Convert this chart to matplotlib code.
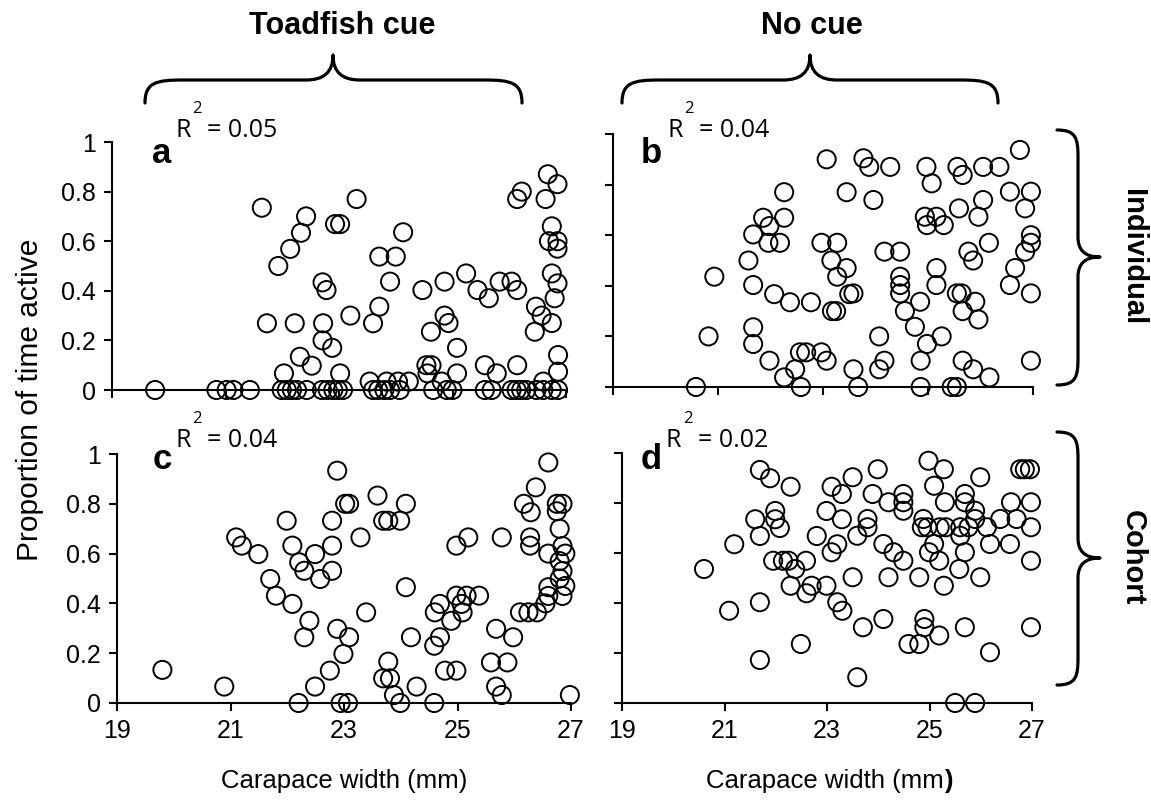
import matplotlib
matplotlib.use("Agg")
import matplotlib.pyplot as plt
from matplotlib.path import Path
from matplotlib.patches import PathPatch

W, H, DPI = 1151, 802, 100

# ---- data: carapace width (mm) and proportion of time active ----
a_width = [19.76, 20.84, 21.02, 21.14, 21.43, 21.99, 22.08, 22.17, 22.26, 22.43,
           22.70, 22.80, 22.90, 22.98, 23.07, 23.60, 23.69, 23.80, 23.90, 24.07,
           24.66, 24.90, 25.00, 25.57, 25.69, 26.04, 26.13, 26.21, 26.30, 26.48,
           26.60, 26.75, 26.86,
           21.64, 22.42, 22.33, 22.14, 21.93, 22.93, 23.02, 22.71, 22.78, 21.73,
           22.22, 22.72, 22.71, 22.88, 22.31, 22.52, 22.03, 23.31, 24.13, 23.71,
           24.00, 23.90, 24.47, 24.86, 25.24, 25.44, 25.64, 25.83, 26.04, 26.14,
           26.14, 26.22, 26.68, 26.64, 26.47, 26.57, 26.45, 23.20, 23.71, 23.60,
           24.62, 24.86, 24.93, 25.08, 24.54, 24.63, 24.56, 25.08, 25.57, 25.78,
           26.14, 23.02, 23.54, 23.84, 24.04, 24.23, 24.81, 26.60, 26.86, 26.86,
           26.85, 26.75, 26.70, 26.85, 26.85, 26.75, 26.85, 26.75, 26.80]
a_active = [0] * 33 + [
           0.735, 0.70, 0.634, 0.569, 0.50, 0.669, 0.669, 0.434, 0.403, 0.269,
           0.269, 0.269, 0.20, 0.17, 0.134, 0.098, 0.067, 0.77, 0.636, 0.538,
           0.538, 0.437, 0.403, 0.437, 0.47, 0.403, 0.37, 0.437, 0.437, 0.403,
           0.77, 0.80, 0.87, 0.77, 0.336, 0.30, 0.235, 0.30, 0.336, 0.269,
           0.235, 0.30, 0.27, 0.17, 0.10, 0.10, 0.067, 0.067, 0.10, 0.067,
           0.10, 0.067, 0.034, 0.034, 0.034, 0.034, 0.034, 0.034, 0.141, 0.074,
           0.83, 0.66, 0.60, 0.60, 0.57, 0.47, 0.43, 0.27, 0.37]

b_width = [20.58, 23.07, 22.26, 23.45, 21.86, 21.98, 22.26, 21.67, 21.96, 22.18,
           22.97, 23.27, 21.58, 23.16, 23.45, 23.27, 20.93, 21.67, 22.07, 22.37,
           22.77, 23.17, 23.25, 23.50, 21.67, 20.82, 21.67, 21.98, 22.56, 22.68,
           22.97, 23.07, 22.26, 22.47, 22.58, 23.77, 23.88, 24.28, 24.97, 25.56,
           25.66, 26.05, 26.36, 26.75, 25.07, 23.96, 26.56, 26.96, 26.85, 26.05,
           25.96, 25.59, 24.94, 25.16, 24.98, 25.30, 24.17, 24.47, 25.77, 25.86,
           26.16, 26.96, 26.96, 26.85, 26.66, 26.56, 26.96, 23.58, 24.47, 24.47,
           24.47, 25.16, 25.16, 24.85, 24.56, 25.55, 25.64, 25.90, 25.66, 25.96,
           24.75, 25.26, 24.98, 24.07, 24.17, 24.07, 23.58, 23.67, 24.86, 24.86,
           25.66, 25.86, 26.17, 25.45, 25.55, 26.96]
b_active = [0.0, 0.90, 0.77, 0.77, 0.669, 0.636, 0.669, 0.603, 0.57, 0.57,
            0.57, 0.57, 0.50, 0.50, 0.47, 0.436, 0.436, 0.403, 0.367, 0.335,
            0.335, 0.30, 0.30, 0.367, 0.236, 0.20, 0.17, 0.104, 0.137, 0.137,
            0.137, 0.104, 0.038, 0.07, 0.0, 0.904, 0.87, 0.87, 0.87, 0.87,
            0.838, 0.87, 0.87, 0.937, 0.805, 0.739, 0.772, 0.772, 0.706, 0.739,
            0.673, 0.706, 0.673, 0.673, 0.64, 0.64, 0.535, 0.535, 0.535, 0.50,
            0.57, 0.60, 0.57, 0.535, 0.47, 0.403, 0.37, 0.37, 0.436, 0.403,
            0.37, 0.47, 0.403, 0.337, 0.30, 0.37, 0.37, 0.337, 0.30, 0.267,
            0.238, 0.20, 0.17, 0.20, 0.104, 0.07, 0.07, 0.0, 0.104, 0.0,
            0.104, 0.07, 0.038, 0.0, 0.0, 0.104]

c_width = [19.80, 20.89, 22.20, 22.49, 22.75, 21.10, 21.20, 21.49, 21.99, 22.09,
           22.21, 22.30, 22.49, 22.58, 21.70, 21.80, 22.09, 22.39, 22.30, 22.88,
           23.02, 23.09, 23.59, 24.09, 22.79, 23.69, 23.78, 23.99, 23.29, 22.79,
           22.79, 24.09, 23.39, 22.88, 23.09, 22.99, 22.94, 23.07, 23.78, 23.69,
           23.81, 23.88, 23.99, 24.28, 24.59, 24.18, 24.60, 24.69, 24.98, 25.16,
           25.38, 25.07, 25.09, 24.89, 24.69, 24.59, 24.78, 24.98, 24.98, 25.19,
           25.78, 25.68, 25.98, 25.59, 25.88, 25.68, 25.78, 26.10, 26.25, 26.40,
           26.28, 26.28, 26.17, 26.29, 26.38, 26.98, 26.60, 26.60, 26.60, 26.60,
           26.55, 26.75, 26.85, 26.75, 26.80, 26.85, 26.90, 26.80, 26.85, 26.80,
           26.90, 26.85]
c_active = [0.133, 0.066, 0.0, 0.066, 0.13, 0.665, 0.632, 0.598, 0.732, 0.632,
            0.565, 0.531, 0.598, 0.498, 0.498, 0.431, 0.398, 0.33, 0.264, 0.933,
            0.80, 0.80, 0.833, 0.80, 0.732, 0.732, 0.732, 0.732, 0.665, 0.632,
            0.531, 0.465, 0.364, 0.298, 0.264, 0.197, 0.0, 0.0, 0.166, 0.099,
            0.099, 0.032, 0.0, 0.066, 0.0, 0.264, 0.364, 0.398, 0.431, 0.431,
            0.431, 0.398, 0.364, 0.33, 0.264, 0.23, 0.13, 0.13, 0.632, 0.665,
            0.665, 0.298, 0.264, 0.163, 0.163, 0.066, 0.032, 0.364, 0.364, 0.364,
            0.665, 0.632, 0.80, 0.766, 0.866, 0.032, 0.966, 0.60, 0.465, 0.43,
            0.40, 0.80, 0.80, 0.77, 0.70, 0.63, 0.60, 0.57, 0.53, 0.50,
            0.47, 0.43]

d_width = [20.60, 21.19, 21.09, 21.69, 21.89, 22.29, 21.60, 21.99, 21.99, 22.08,
           21.69, 21.95, 22.14, 22.25, 22.59, 22.38, 22.29, 22.60, 22.70, 22.99,
           21.69, 22.49, 21.69, 22.80, 23.09, 23.29, 22.99, 23.29, 23.20, 23.09,
           23.20, 23.30, 23.50, 23.99, 24.98, 25.28, 25.99, 26.77, 26.86, 26.96,
           23.89, 24.20, 24.49, 24.49, 24.49, 25.09, 25.30, 25.69, 25.69, 25.89,
           25.89, 26.59, 26.98, 23.79, 23.79, 23.59, 24.88, 24.85, 24.96, 25.20,
           25.32, 25.60, 25.76, 26.12, 25.60, 26.38, 26.70, 26.98, 24.10, 24.30,
           24.49, 24.99, 25.09, 25.19, 25.69, 25.58, 26.18, 26.57, 26.98, 23.50,
           24.20, 24.80, 25.28, 25.99, 23.70, 24.10, 24.90, 24.90, 25.19, 24.59,
           24.80, 25.69, 26.18, 26.98, 23.59, 25.50, 25.89]
d_active = [0.536, 0.635, 0.369, 0.932, 0.899, 0.865, 0.735, 0.768, 0.735, 0.70,
            0.668, 0.569, 0.569, 0.569, 0.569, 0.536, 0.469, 0.439, 0.469, 0.469,
            0.403, 0.236, 0.172, 0.668, 0.865, 0.836, 0.768, 0.735, 0.635, 0.603,
            0.403, 0.369, 0.903, 0.935, 0.969, 0.935, 0.903, 0.935, 0.935, 0.935,
            0.836, 0.803, 0.836, 0.803, 0.769, 0.869, 0.803, 0.836, 0.803, 0.769,
            0.736, 0.803, 0.803, 0.736, 0.703, 0.669, 0.736, 0.703, 0.703, 0.703,
            0.703, 0.703, 0.703, 0.703, 0.669, 0.736, 0.736, 0.703, 0.636, 0.603,
            0.569, 0.603, 0.636, 0.569, 0.603, 0.536, 0.636, 0.636, 0.569, 0.503,
            0.503, 0.503, 0.469, 0.503, 0.303, 0.336, 0.336, 0.303, 0.27, 0.236,
            0.236, 0.303, 0.203, 0.303, 0.103, 0.0, 0.0]

x_ticks = [19, 21, 23, 25, 27]
y_ticks = [0, 0.2, 0.4, 0.6, 0.8, 1]
y_tick_labels = ["0", "0.2", "0.4", "0.6", "0.8", "1"]
r2_labels = ["0.05", "0.04", "0.04", "0.02"]
panel_letters = ["a", "b", "c", "d"]

SANS = ["Liberation Sans", "DejaVu Sans"]
R2_FONT = ["Open Sans", "DejaVu Sans"]
plt.rcParams["font.family"] = SANS

fig = plt.figure(figsize=(W / DPI, H / DPI), dpi=DPI)


def fx(x):
    return x / W


def fy(y):
    return 1 - y / H


def add_panel(l, t, r, b):
    return fig.add_axes([l / W, 1 - b / H, (r - l) / W, (b - t) / H])


def style(ax, show_x, show_y):
    ax.set_xlim(19, 27)
    ax.set_ylim(0, 1)
    for s in ("top", "right"):
        ax.spines[s].set_visible(False)
    for s in ("left", "bottom"):
        ax.spines[s].set_linewidth(1.5)
        ax.spines[s].set_color("black")
    ax.set_xticks(x_ticks)
    ax.set_yticks(y_ticks)
    ax.set_xticklabels([str(v) for v in x_ticks] if show_x else [])
    ax.set_yticklabels(y_tick_labels if show_y else [])
    ax.tick_params(direction="out", length=5.5, width=1.5, labelsize=18,
                   colors="black", pad=6)
    ax.patch.set_alpha(0)


panels = [
    (add_panel(112, 142, 566, 390), a_width, a_active, False, True),
    (add_panel(613, 134, 1033, 387), b_width, b_active, False, False),
    (add_panel(117, 454, 571, 703), c_width, c_active, True, True),
    (add_panel(622, 453, 1032, 703), d_width, d_active, True, False),
]
for ax, xs, ys, sx, sy in panels:
    style(ax, sx, sy)
    ax.scatter(xs, ys, s=170, facecolors="none", edgecolors="black",
               linewidths=1.4, clip_on=False, zorder=3)

# panel letters and R-squared annotations (positions in pixels)
letter_pos = [(152, 163), (641, 163), (153, 469), (641, 469)]
r2_pos = [(175, 137), (667, 137), (175, 447), (666, 447)]
for (lx, ly), (rx, ry), letter, r2 in zip(letter_pos, r2_pos, panel_letters, r2_labels):
    fig.text(fx(lx), fy(ly), letter, fontsize=25, fontweight="bold", va="baseline")
    fig.text(fx(rx), fy(ry), "R", fontsize=18, family=R2_FONT, va="baseline")
    fig.text(fx(rx + 17), fy(ry - 24), "2", fontsize=12, family=R2_FONT, va="baseline")
    fig.text(fx(rx + 32), fy(ry), "= " + r2, fontsize=18, family=R2_FONT, va="baseline")

# axis titles
fig.text(fx(30), fy(400), "Proportion of time active", rotation=90,
         ha="center", va="center", fontsize=21.5)
fig.text(fx(344), fy(781), "Carapace width (mm)", ha="center", va="center", fontsize=18.5)
renderer = fig.canvas.get_renderer()
t = fig.text(fx(825), fy(781), "Carapace width (mm", ha="center", va="center", fontsize=18.5)
bb = t.get_window_extent(renderer)
fig.text(bb.x1 / W, fy(781), ")", ha="left", va="center", fontsize=18.5, fontweight="bold")

# group headings
fig.text(fx(342), fy(26), "Toadfish cue", ha="center", va="center",
         fontsize=22, fontweight="bold")
fig.text(fx(812), fy(26), "No cue", ha="center", va="center",
         fontsize=22, fontweight="bold")
fig.text(fx(1133), fy(257), "Individual", rotation=-90, ha="center", va="center",
         fontsize=21, fontweight="bold")
fig.text(fx(1133), fy(558), "Cohort", rotation=-90, ha="center", va="center",
         fontsize=21, fontweight="bold")


def brace(a0, a1, am, end, line, tip, r_end, r_tip, vertical=False):
    """Curly brace along one axis (a), bulging in the other (end->line->tip)."""
    pts = [
        (a0, end),
        (a0, line + (end - line) * 0.1), (a0 + r_end * 0.3, line), (a0 + r_end, line),
        (am - r_tip, line),
        (am - r_tip * 0.35, line), (am, line + (tip - line) * 0.3), (am, tip),
        (am, line + (tip - line) * 0.3), (am + r_tip * 0.35, line), (am + r_tip, line),
        (a1 - r_end, line),
        (a1 - r_end * 0.3, line), (a1, line + (end - line) * 0.1), (a1, end),
    ]
    codes = [Path.MOVETO, Path.CURVE4, Path.CURVE4, Path.CURVE4, Path.LINETO,
             Path.CURVE4, Path.CURVE4, Path.CURVE4, Path.CURVE4, Path.CURVE4,
             Path.CURVE4, Path.LINETO, Path.CURVE4, Path.CURVE4, Path.CURVE4]
    if vertical:
        verts = [(fx(v), fy(u)) for u, v in pts]
    else:
        verts = [(fx(u), fy(v)) for u, v in pts]
    fig.add_artist(PathPatch(Path(verts, codes), transform=fig.transFigure,
                             fill=False, lw=2.3, edgecolor="black",
                             capstyle="round", joinstyle="round"))


brace(145, 522, 333, 103, 80, 55, 38, 27)
brace(622, 998, 810, 103, 80, 55, 38, 27)
brace(130, 385, 257, 1057, 1078, 1100, 27, 20, vertical=True)
brace(432, 685, 558, 1057, 1078, 1100, 27, 20, vertical=True)

fig.savefig("out.png", dpi=DPI)
